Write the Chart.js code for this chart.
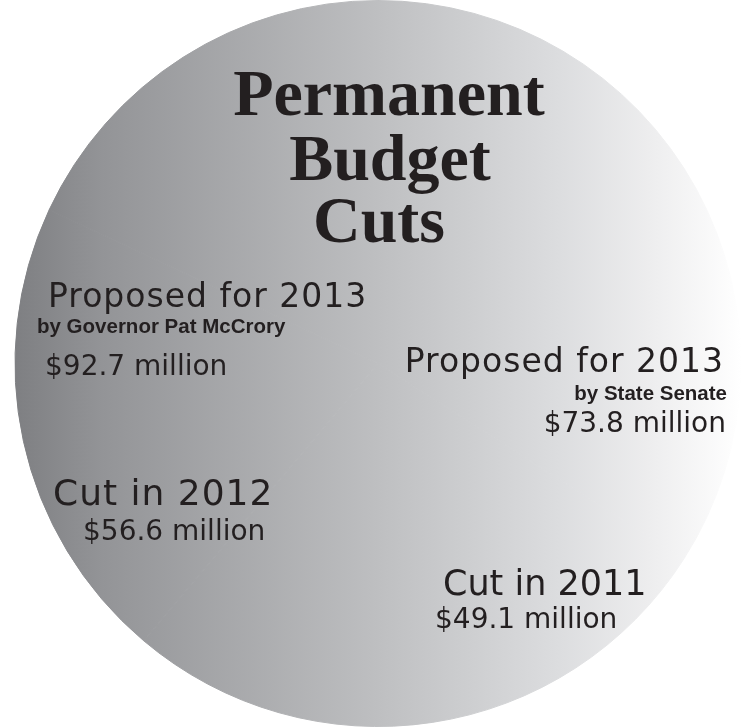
<!DOCTYPE html>
<html>
<head>
<meta charset="utf-8">
<title>Permanent Budget Cuts</title>
<script src="https://cdn.jsdelivr.net/npm/chart.js@4.4.1/dist/chart.umd.min.js"></script>
<style>
  html, body { margin: 0; padding: 0; background: #fff; }
  #wrap { width: 756px; height: 727px; }
</style>
</head>
<body>
<div id="wrap"><canvas id="cutsChart" width="756" height="727"></canvas></div>
<script>
// data
const categories = ['Proposed for 2013', 'Proposed for 2013', 'Cut in 2012', 'Cut in 2011'];
const sponsors = ['by Governor Pat McCrory', 'by State Senate', '', ''];
const amounts = [92.7, 73.8, 56.6, 49.1]; // $ million
const titleLines = ['Permanent', 'Budget', 'Cuts'];

// where each label block sits (canvas px): x, align, baselines for heading / sponsor / amount
const labelLayout = [
  { x: 48, align: 'left', size: 33, track: 1, head: 307, sub: 333, subX: 37, amt: 375, amtX: 45 },
  { x: 724, align: 'right', size: 33, track: 1, head: 372, sub: 400, subX: 727, amt: 432, amtX: 726 },
  { x: 53, align: 'left', size: 36, track: 1, head: 505, amt: 540, amtX: 83 },
  { x: 443, align: 'left', size: 35, track: 0, head: 595, amt: 628, amtX: 435 }
];
const titleLayout = [{ x: 389, y: 115 }, { x: 390, y: 180 }, { x: 379, y: 242 }];

const ink = '#231f20';

function discGradient(chart) {
  const area = chart.chartArea;
  if (!area) return '#bcbdbf';
  const cx = (area.left + area.right) / 2;
  const r = Math.min(area.width, area.height) / 2;
  const g = chart.ctx.createLinearGradient(cx - r, 0, cx + r, 0);
  g.addColorStop(0, '#7e7f82');
  g.addColorStop(0.12, '#939497');
  g.addColorStop(0.5, '#bebfc1');
  g.addColorStop(0.75, '#dcdddf');
  g.addColorStop(0.88, '#eeeeef');
  g.addColorStop(1, '#ffffff');
  return g;
}

const textPlugin = {
  id: 'cutLabels',
  afterDatasetsDraw(chart) {
    const ctx = chart.ctx;
    ctx.save();
    ctx.fillStyle = ink;
    ctx.textBaseline = 'alphabetic';

    ctx.font = 'bold 66px "Liberation Serif", "Times New Roman", serif';
    ctx.textAlign = 'center';
    titleLines.forEach((t, i) => ctx.fillText(t, titleLayout[i].x, titleLayout[i].y));

    amounts.forEach((v, i) => {
      const L = labelLayout[i];
      ctx.textAlign = L.align;
      ctx.letterSpacing = L.track + 'px';
      ctx.font = L.size + 'px "DejaVu Sans", sans-serif';
      ctx.fillText(categories[i], L.x, L.head);
      ctx.letterSpacing = '0px';
      if (sponsors[i]) {
        ctx.font = 'bold 20.5px "Liberation Sans", Arial, sans-serif';
        ctx.fillText(sponsors[i], L.subX, L.sub);
      }
      ctx.font = '28px "DejaVu Sans", sans-serif';
      ctx.fillText('$' + v.toFixed(1) + ' million', L.amtX, L.amt);
    });
    ctx.restore();
  }
};

new Chart(document.getElementById('cutsChart').getContext('2d'), {
  type: 'pie',
  data: {
    labels: categories,
    datasets: [{
      data: amounts,
      backgroundColor: ctx => discGradient(ctx.chart),
      borderColor: ctx => discGradient(ctx.chart),
      borderWidth: 1
    }]
  },
  options: {
    responsive: false,
    animation: false,
    events: [],
    layout: { padding: 0 },
    plugins: {
      legend: { display: false },
      tooltip: { enabled: false }
    }
  },
  plugins: [textPlugin]
});
</script>
</body>
</html>
